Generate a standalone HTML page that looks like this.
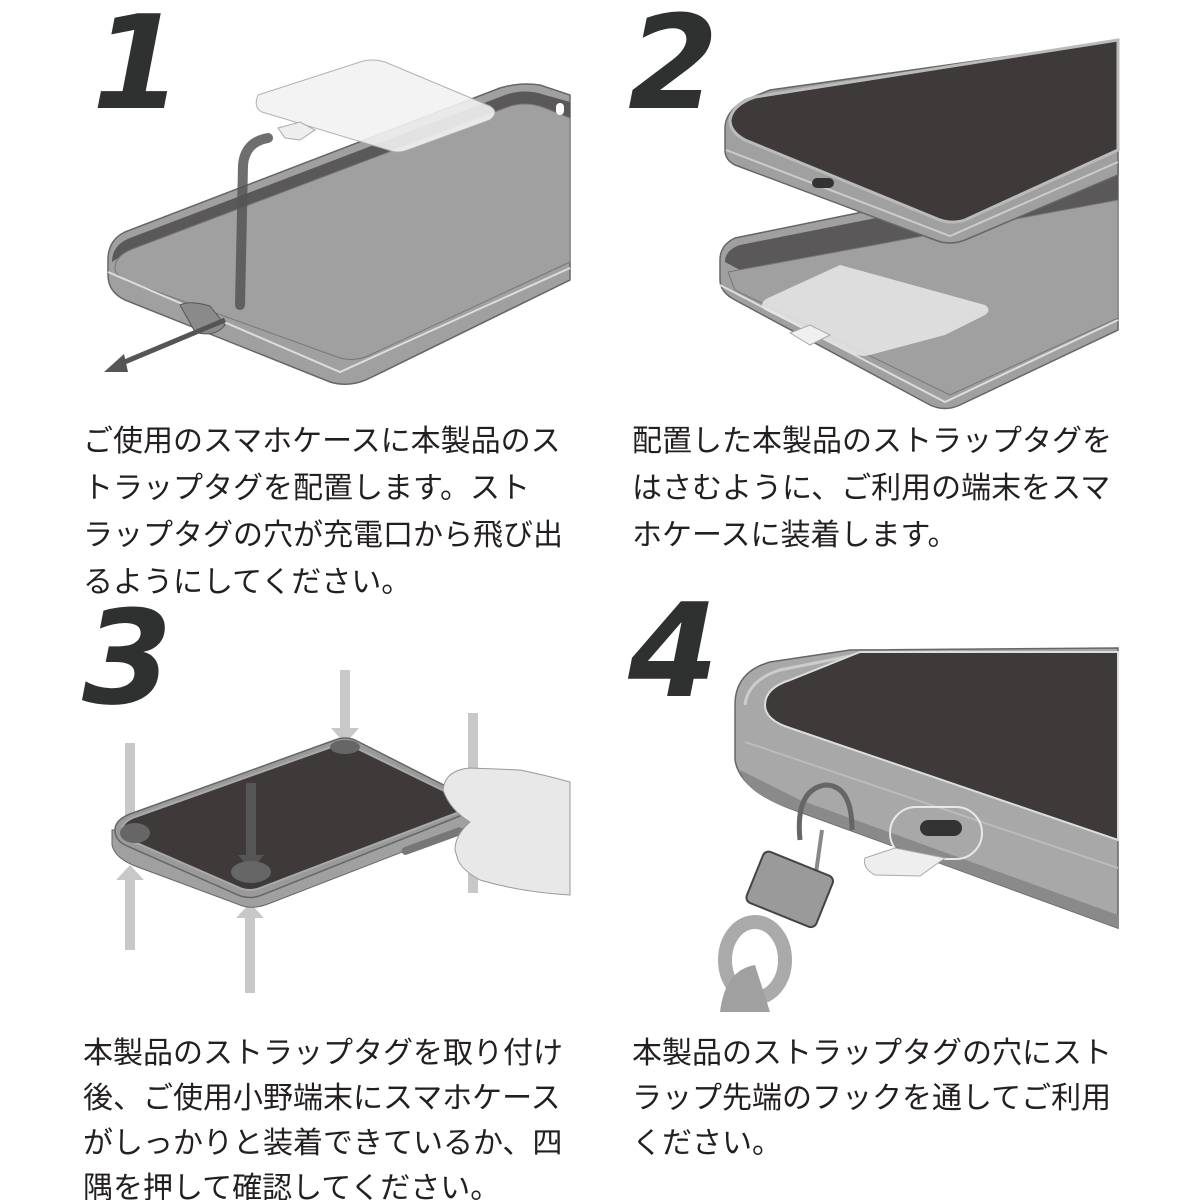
<!DOCTYPE html>
<html><head><meta charset="utf-8"><style>
html,body{margin:0;padding:0;background:#fff;}
.w{position:relative;width:1200px;height:1200px;overflow:hidden;}
svg{position:absolute;left:0;top:0;}
.t{position:absolute;font-family:"Liberation Sans","Noto Sans CJK JP",sans-serif;font-size:30px;line-height:47px;color:#231f20;white-space:nowrap;}
</style></head><body><div class="w">
<svg width="1200" height="1200" viewBox="0 0 1200 1200">
<g font-family="DejaVu Sans,sans-serif" font-weight="bold" font-style="italic" fill="#2f3130" font-size="130">
<text x="92" y="108">1</text><text x="628" y="108">2</text><text x="82" y="703">3</text><text x="628" y="696">4</text></g>
<!-- panel 1 -->
<path d="M108,260 Q108,240 125,232 L500,88 Q520,82 540,85 L570,95 L570,280 L370,378 Q350,388 330,382 L125,300 Q108,292 108,275 Z" fill="#a0a0a0" stroke="#666" stroke-width="1.5"/>
<path d="M112,262 Q112,245 130,238 L505,95 Q525,88 545,95 L570,102 L570,240 L130,250 Z" fill="#5a5858"/>
<path d="M115,268 Q115,255 135,248 L505,108 Q525,100 545,108 L570,118 L570,262 L370,355 Q355,362 340,358 L130,282 Q115,276 115,268 Z" fill="#a0a0a0" stroke="#777"/>
<path d="M108,272 L340,372 L570,268" fill="none" stroke="#ddd" stroke-width="2"/>
<rect x="556" y="103" width="8" height="12" rx="4" fill="#fff"/>
<path d="M262,88 Q255,92 258,108 L398,150 Q412,152 420,145 L490,118 Q500,110 490,105 L375,60 Z" fill="none"/>
<path d="M258,95 L360,62 Q372,58 385,62 L490,106 Q500,112 490,120 L408,150 Q398,154 388,150 L262,112 Q253,108 258,95 Z" fill="#f2f2f2" stroke="#aaa" opacity=".9"/>
<path d="M278,128 L300,122 L315,130 L300,140 L285,138 Z" fill="#eee" stroke="#aaa"/>
<path d="M268,138 Q245,142 243,165 L240,305" fill="none" stroke="#555" stroke-width="10" stroke-linecap="round" opacity=".85"/>
<path d="M180,305 Q190,300 210,306 L225,325 Q215,338 195,332 Z" fill="#8a8a8a" stroke="#555"/>
<line x1="225" y1="320" x2="115" y2="366" stroke="#555" stroke-width="5"/>
<polygon points="104,372 124,354 128,372" fill="#555"/>
<!-- panel 2 lower case -->
<path d="M720,260 Q720,245 735,238 L1118,160 L1118,330 L960,405 Q945,412 930,405 L735,300 Q720,292 720,280 Z" fill="#a0a0a0" stroke="#666" stroke-width="1.5"/>
<path d="M725,262 Q725,250 740,245 L1118,170 L1118,200 L740,270 Z" fill="#5a5858"/>
<path d="M728,272 L1118,200 L1118,318 L950,395 L735,290 Z" fill="#a0a0a0" stroke="#777"/>
<path d="M720,285 L945,402 L1118,320" fill="none" stroke="#ddd" stroke-width="2"/>
<path d="M840,265 L985,305 Q992,310 985,315 L945,335 L870,355 Q860,358 850,352 L765,310 Q758,303 768,298 Z" fill="#e8e8e8" opacity=".85"/>
<path d="M790,333 L810,325 L830,335 L810,345 Z" fill="#f0f0f0" stroke="#aaa"/>
<!-- panel 2 phone -->
<path d="M725,128 Q725,112 745,100 L770,90 L1110,42 L1118,45 L1118,175 L965,240 Q950,246 935,240 L735,165 Q725,160 725,150 Z" fill="#a0a0a0" stroke="#666" stroke-width="1.5"/>
<path d="M730,120 Q732,105 755,97 L1118,40 L1118,150 L965,220 Q950,225 935,218 L745,140 Q730,132 730,120 Z" fill="#3e3a39" stroke="#bbb" stroke-width="3"/>
<path d="M726,150 L950,236 L1118,162" fill="none" stroke="#ccc" stroke-width="2"/>
<rect x="812" y="178" width="22" height="10" rx="5" fill="#333"/>
<!-- panel 3 -->
<g fill="#c8c8c8"><rect x="125" y="743" width="10" height="95"/><rect x="125" y="880" width="10" height="70"/><polygon points="116,880 144,880 130,865"/>
<rect x="340" y="670" width="10" height="60"/><polygon points="331,728 359,728 345,744"/>
<rect x="245" y="918" width="10" height="75"/><polygon points="236,918 264,918 250,903"/>
<rect x="468" y="713" width="10" height="180"/></g>
<path d="M112,830 L112,845 Q115,858 135,866 L240,905 Q252,910 268,904 L485,820 L485,808 Z" fill="#a0a0a0" stroke="#666"/>
<path d="M115,830 Q115,820 130,814 L335,740 Q345,736 355,740 L485,806 L262,895 Q250,900 238,895 L125,845 Q115,840 115,830 Z" fill="#9a9a9a" stroke="#666" stroke-width="1.5"/>
<path d="M122,830 Q122,822 135,817 L337,745 Q345,742 352,746 L475,806 L260,888 Q250,892 240,888 L130,840 Q122,836 122,830 Z" fill="#3e3a39" stroke="#aaa" stroke-width="2"/>
<rect x="246" y="783" width="10" height="75" fill="#555"/>
<polygon points="238,855 264,855 251,870" fill="#555"/>
<g fill="#666"><ellipse cx="135" cy="833" rx="15" ry="10"/><ellipse cx="345" cy="747" rx="15" ry="7"/><ellipse cx="251" cy="872" rx="20" ry="11"/></g>
<rect x="400" y="838" width="65" height="8" rx="4" fill="#777" transform="rotate(-20 430 842)"/>
<path d="M443,790 Q445,770 470,768 L520,770 Q545,775 570,782 L570,895 Q520,892 480,880 Q462,870 458,860 L455,850 Q455,835 470,822 Q450,810 443,790 Z" fill="#e8e8e8" stroke="#999"/>
<!-- panel 4 -->
<path d="M735,705 Q735,672 770,662 L850,650 L1118,648 L1118,928 L800,812 Q740,792 735,760 Z" fill="#a8a8a8" stroke="#666" stroke-width="1.5"/>
<path d="M740,770 L800,800 L1118,915 L1118,928 L800,812 Q745,795 740,770 Z" fill="#8a8a8a"/>
<path d="M745,705 Q748,680 780,670 L860,654" fill="none" stroke="#ccc" stroke-width="3"/>
<path d="M765,705 Q765,688 790,680 L860,652 L1118,652 L1118,840 L790,728 Q765,720 765,705 Z" fill="#3e3a39" stroke="#ddd" stroke-width="2"/>
<path d="M745,742 L1118,868" stroke="#bbb" stroke-width="2"/>
<rect x="890" y="807" width="92" height="52" rx="26" fill="none" stroke="#e8e8e8" stroke-width="2"/>
<rect x="920" y="820" width="42" height="16" rx="8" fill="#333"/>
<path d="M865,858 L895,848 L945,858 L920,876 L875,875 Q862,868 865,858 Z" fill="#eee" stroke="#aaa"/>
<path d="M800,840 Q795,790 825,785 Q852,785 852,830" fill="none" stroke="#666" stroke-width="5"/>
<line x1="822" y1="830" x2="815" y2="880" stroke="#888" stroke-width="4"/>
<rect x="752" y="862" width="75" height="55" rx="6" fill="#9a9a9a" stroke="#444" stroke-width="2" transform="rotate(22 790 890)"/>
<ellipse cx="755" cy="960" rx="30" ry="38" fill="none" stroke="#aaa" stroke-width="14"/>
<path d="M720,1012 Q725,970 755,965 L770,1012" fill="#a0a0a0"/>
</svg>
<div class="t" style="left:83px;top:418px">ご使用のスマホケースに本製品のス<br>トラップタグを配置します。スト<br>ラップタグの穴が充電口から飛び出<br>るようにしてください。</div>
<div class="t" style="left:632px;top:418px">配置した本製品のストラップタグを<br>はさむように、ご利用の端末をスマ<br>ホケースに装着します。</div>
<div class="t" style="left:83px;top:1031px;line-height:45px">本製品のストラップタグを取り付け<br>後、ご使用小野端末にスマホケース<br>がしっかりと装着できているか、四<br>隅を押して確認してください。</div>
<div class="t" style="left:632px;top:1031px;line-height:45px">本製品のストラップタグの穴にスト<br>ラップ先端のフックを通してご利用<br>ください。</div>
</div></body></html>
